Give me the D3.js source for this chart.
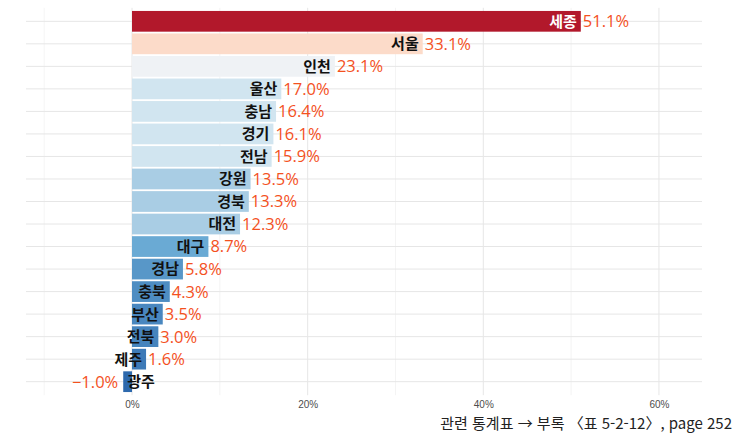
<!DOCTYPE html>
<html lang="ko">
<head>
<meta charset="utf-8">
<title>시도별 증감률</title>
<script src="https://d3js.org/d3.v7.min.js"></script>
<style>
  body { margin: 0; background: #fff; }
  svg { display: block; }
</style>
</head>
<body>
<div id="chart"></div>
<script>
// regions, top to bottom
var regions = ["세종", "서울", "인천", "울산", "충남", "경기", "전남", "강원", "경북", "대전", "대구", "경남", "충북", "부산", "전북", "제주", "광주"];
var values  = [51.1, 33.1, 23.1, 17.0, 16.4, 16.1, 15.9, 13.5, 13.3, 12.3, 8.7, 5.8, 4.3, 3.5, 3.0, 1.6, -1.0];
var majorTicks = [0, 20, 40, 60];
var minorTicks = [-10, 10, 30, 50];
var caption = "관련 통계표 → 부록 〈표 5-2-12〉, page 252";

var width = 752, height = 435;
var panel = { left: 26, right: 702, top: 7.8, bottom: 395.2 };

var svg = d3.select("#chart").append("svg")
    .attr("width", width)
    .attr("height", height);

var x = d3.scaleLinear()
    .domain([-12.07, 64.9])
    .range([panel.left, panel.right]);

var y = d3.scalePoint()
    .domain(regions)
    .range([panel.top, panel.bottom])
    .padding(0.6);

var barH = y.step() * 0.92;

// binned fill, red for high, blue for low
var lowBlue = d3.scaleLinear().domain([-1, 8.7]).range(["#2d69ad", "#6aaad4"]).clamp(true);
function fillFor(v) {
  if (v >= 40) return "#b2182b";
  if (v >= 30) return "#fcdbc9";
  if (v >= 20) return "#eff2f5";
  if (v >= 15) return "#d1e5f0";
  if (v >= 10) return "#a9cde4";
  return lowBlue(v);
}

// grid
var grid = svg.append("g");
grid.selectAll(".minor")
  .data(minorTicks).enter().append("line")
    .attr("x1", d => x(d)).attr("x2", d => x(d))
    .attr("y1", panel.top).attr("y2", panel.bottom)
    .attr("stroke", "#ececec").attr("stroke-width", 0.6);
grid.selectAll(".major")
  .data(majorTicks).enter().append("line")
    .attr("x1", d => x(d)).attr("x2", d => x(d))
    .attr("y1", panel.top).attr("y2", panel.bottom)
    .attr("stroke", "#e6e6e6").attr("stroke-width", 1);
grid.selectAll(".hline")
  .data(regions).enter().append("line")
    .attr("x1", panel.left).attr("x2", panel.right)
    .attr("y1", d => y(d)).attr("y2", d => y(d))
    .attr("stroke", "#e6e6e6").attr("stroke-width", 1);

// bars
svg.append("g").selectAll("rect")
  .data(regions).enter().append("rect")
    .attr("x", (d, i) => x(Math.min(0, values[i])))
    .attr("width", (d, i) => Math.abs(x(values[i]) - x(0)))
    .attr("y", d => y(d) - barH / 2)
    .attr("height", barH)
    .attr("fill", (d, i) => fillFor(values[i]));

// region names, inside the bar end
svg.append("g").selectAll("text")
  .data(regions).enter().append("text")
    .attr("x", (d, i) => values[i] >= 0 ? x(values[i]) - 4 : x(values[i]) + 4)
    .attr("y", d => y(d))
    .attr("dy", "0.36em")
    .attr("text-anchor", (d, i) => values[i] >= 0 ? "end" : "start")
    .attr("font-family", "'Noto Sans CJK KR', sans-serif")
    .attr("font-weight", 700)
    .attr("font-size", 15)
    .attr("fill", (d, i) => values[i] >= 40 ? "#ffffff" : "#111111")
    .text(d => d);

// values, outside the bar end
svg.append("g").selectAll("text")
  .data(regions).enter().append("text")
    .attr("x", (d, i) => values[i] >= 0 ? x(values[i]) + 2 : x(values[i]) - 5)
    .attr("y", d => y(d))
    .attr("dy", "0.36em")
    .attr("text-anchor", (d, i) => values[i] >= 0 ? "start" : "end")
    .attr("font-family", "'Open Sans', 'Noto Sans', sans-serif")
    .attr("font-size", 16.5)
    .attr("fill", "#f4511e")
    .text((d, i) => (values[i] < 0 ? "\u2212" + Math.abs(values[i]).toFixed(1) : values[i].toFixed(1)) + "%");

// x axis labels
var xAxis = svg.append("g")
    .attr("transform", "translate(0," + (panel.bottom + 3) + ")")
    .call(d3.axisBottom(x).tickValues(majorTicks).tickSize(0).tickPadding(3).tickFormat(d => d + "%"));
xAxis.select(".domain").remove();
xAxis.selectAll("text")
    .attr("font-family", "'Liberation Sans', Arial, sans-serif")
    .attr("font-size", 10)
    .attr("fill", "#4d4d4d");

// caption
svg.append("text")
    .attr("x", 732)
    .attr("y", 429)
    .attr("text-anchor", "end")
    .attr("font-family", "'Noto Sans CJK KR', sans-serif")
    .attr("font-size", 15)
    .attr("fill", "#222")
    .text(caption);
</script>
</body>
</html>
